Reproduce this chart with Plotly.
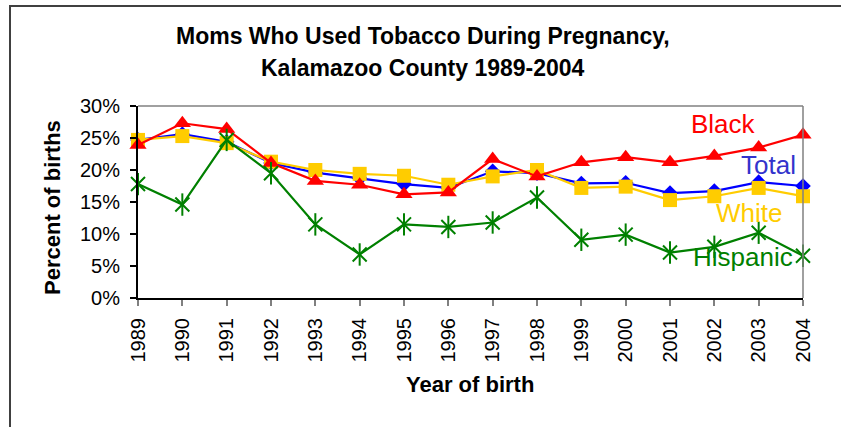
import plotly.graph_objects as go

years = list(range(1989, 2005))
total = [24.7, 25.6, 24.4, 21.1, 19.6, 18.7, 17.8, 17.2, 19.8, 19.5, 17.9, 18.0, 16.4, 16.7, 18.1, 17.5]
white = [24.7, 25.3, 24.2, 21.3, 20.0, 19.4, 19.1, 17.7, 19.0, 20.0, 17.2, 17.4, 15.3, 15.9, 17.2, 15.9]
black = [23.9, 27.3, 26.4, 21.1, 18.3, 17.7, 16.2, 16.5, 21.7, 19.0, 21.2, 22.0, 21.2, 22.2, 23.5, 25.5]
hispanic = [17.8, 14.6, 24.7, 19.5, 11.5, 6.8, 11.5, 11.1, 11.8, 15.7, 9.1, 9.9, 7.1, 8.0, 10.2, 6.6]
y_ticks = [0, 5, 10, 15, 20, 25, 30]
y_tick_labels = [f"{v}%" for v in y_ticks]

FONT = "Liberation Sans, Arial, sans-serif"
W, H = 841, 427
ML, MR, MT, MB = 138, 38, 106, 129
PW, PH = W - ML - MR, H - MT - MB

def px(x):
    return (x - ML) / PW

def py(y):
    return (H - MB - y) / PH

fig = go.Figure()
fig.add_trace(go.Scatter(x=years, y=total, name="Total", mode="lines+markers",
                         line=dict(color="#0000FF", width=2.2),
                         marker=dict(symbol="diamond", size=12, color="#0000FF"),
                         cliponaxis=False))
fig.add_trace(go.Scatter(x=years, y=white, name="White", mode="lines+markers",
                         line=dict(color="#FFCC00", width=2.2),
                         marker=dict(symbol="square", size=14, color="#FFCC00"),
                         cliponaxis=False))
fig.add_trace(go.Scatter(x=years, y=black, name="Black", mode="lines+markers",
                         line=dict(color="#FF0000", width=2.2),
                         marker=dict(symbol="triangle-up", size=15, color="#FF0000"),
                         cliponaxis=False))
fig.add_trace(go.Scatter(x=years, y=hispanic, name="Hispanic", mode="lines+markers",
                         line=dict(color="#008000", width=2.2),
                         marker=dict(symbol="x-thin-open", size=14, color="#008000",
                                     line=dict(color="#008000", width=2)),
                         cliponaxis=False))
# vertical stroke completing the six-armed star marker
fig.add_trace(go.Scatter(x=years, y=hispanic, name="Hispanic", mode="markers",
                         marker=dict(symbol="line-ns-open", size=16, color="#008000",
                                     line=dict(color="#008000", width=2)),
                         cliponaxis=False, hoverinfo="skip"))

labels = [("Black", 2002.2, 27.2, "#FF0000"),
          ("Total", 2003.23, 20.8, "#3333CC"),
          ("White", 2002.78, 13.3, "#FFCC00"),
          ("Hispanic", 2002.64, 6.4, "#008000")]
annotations = []
for txt, x, y, c in labels:
    annotations.append(dict(x=x, y=y, xref="x", yref="y", text=txt, showarrow=False,
                            font=dict(family=FONT, size=26, color=c),
                            xanchor="center", yanchor="middle"))

annotations.append(dict(x=px(423), y=py(36), xref="paper", yref="paper",
                        text="<b>Moms Who Used Tobacco During Pregnancy,</b>", showarrow=False,
                        font=dict(family=FONT, size=23, color="black"),
                        xanchor="center", yanchor="middle"))
annotations.append(dict(x=px(423), y=py(68), xref="paper", yref="paper",
                        text="<b>Kalamazoo County 1989-2004</b>", showarrow=False,
                        font=dict(family=FONT, size=23, color="black"),
                        xanchor="center", yanchor="middle"))
annotations.append(dict(x=px(52), y=py(208), xref="paper", yref="paper",
                        text="<b>Percent of births</b>", showarrow=False, textangle=-90,
                        font=dict(family=FONT, size=22, color="black"),
                        xanchor="center", yanchor="middle"))
annotations.append(dict(x=px(470), y=py(384), xref="paper", yref="paper",
                        text="<b>Year of birth</b>", showarrow=False,
                        font=dict(family=FONT, size=22, color="black"),
                        xanchor="center", yanchor="middle"))

shapes = [
    dict(type="rect", xref="paper", yref="paper", x0=px(10), x1=px(850), y0=py(440), y1=py(6),
         line=dict(color="#404040", width=2), fillcolor="rgba(0,0,0,0)", layer="below"),
    dict(type="line", xref="paper", yref="paper", x0=0, x1=1, y0=1, y1=1,
         line=dict(color="#808080", width=1.5)),
    dict(type="line", xref="paper", yref="paper", x0=1, x1=1, y0=0, y1=1,
         line=dict(color="#808080", width=1.5)),
]

fig.update_layout(
    width=W, height=H,
    margin=dict(l=ML, r=MR, t=MT, b=MB, autoexpand=False),
    paper_bgcolor="white", plot_bgcolor="white",
    showlegend=False,
    annotations=annotations,
    shapes=shapes,
    font=dict(family=FONT, color="black"),
    xaxis=dict(
        range=[1989, 2004], tickvals=years, ticktext=[str(y) for y in years],
        tickangle=-90, tickfont=dict(family=FONT, size=20, color="black"),
        showgrid=False, zeroline=False, automargin=False,
        showline=True, linecolor="black", linewidth=2,
        ticks="outside", ticklen=6, tickcolor="#808080", tickwidth=1.5,
        ticklabelstandoff=4,
    ),
    yaxis=dict(
        range=[0, 30], tickvals=y_ticks, ticktext=y_tick_labels,
        tickfont=dict(family=FONT, size=20, color="black"),
        showgrid=False, zeroline=False, automargin=False,
        showline=True, linecolor="black", linewidth=2,
        ticks="outside", ticklen=6, tickcolor="black", tickwidth=1.5,
        ticklabelstandoff=6,
    ),
)

fig.write_html("out.html", config={"displayModeBar": False},
               post_script="document.body.style.margin='0';document.body.style.overflow='hidden';")
